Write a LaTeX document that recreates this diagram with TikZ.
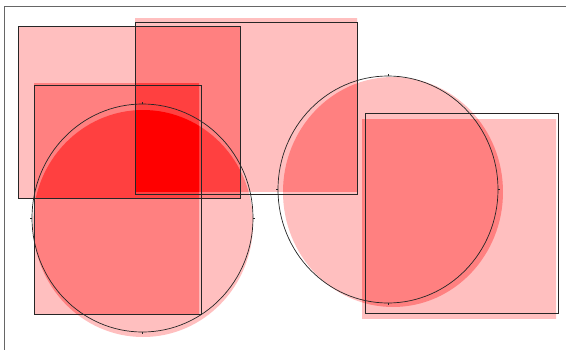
\documentclass[tikz,border=0pt]{standalone}
\usepackage{tikz}
\tikzset{
  outline/.style={draw=black!85,line width=0.7pt},
  tick/.style={draw=black!85,line width=0.6pt},
  frame/.style={draw=black!60,line width=0.9pt},
}
% filled areas (slightly shifted from their outlines)
\def\fA{(18,26) rectangle (240,198)}
\def\fB{(135,18) rectangle (357,191)}
\def\fC{(34,83) rectangle (199,313)}
\def\fD{(143,223.5) ellipse [x radius=110,y radius=113.5]}
\def\fE{(393,192) ellipse [x radius=110,y radius=115]}
\def\fF{(362,119) rectangle (556,318)}
% paint the area where all the given shapes overlap
\def\clipall#1{\ifx#1\relax\else\clip #1;\expandafter\clipall\fi}
\newcommand\hitfill[2]{%
  \begin{scope}\clipall#2\relax\fill[#1] (0,0) rectangle (566,349);\end{scope}}

\begin{document}
\begin{tikzpicture}[x=1pt,y=-1pt]
  \useasboundingbox (0,0) rectangle (566,349);
  \clip (0,0) rectangle (566,349);
  \fill[white] (0,0) rectangle (566,349);
  \draw[frame] (4.5,6.5) rectangle (580,360);
  % one layer
  \hitfill{red!25}{\fA} \hitfill{red!25}{\fB} \hitfill{red!25}{\fC}
  \hitfill{red!25}{\fD} \hitfill{red!25}{\fE} \hitfill{red!25}{\fF}
  % two layers
  \hitfill{red!50}{\fA\fB} \hitfill{red!50}{\fA\fC} \hitfill{red!50}{\fA\fD}
  \hitfill{red!50}{\fB\fC} \hitfill{red!50}{\fB\fD} \hitfill{red!50}{\fC\fD}
  \hitfill{red!50}{\fB\fE} \hitfill{red!50}{\fE\fF}
  % three layers
  \hitfill{red!75}{\fA\fB\fC} \hitfill{red!75}{\fA\fB\fD}
  \hitfill{red!75}{\fA\fC\fD} \hitfill{red!75}{\fB\fC\fD}
  % four layers
  \hitfill{red}{\fA\fB\fC\fD}
  % outlines
  \draw[outline] (18,26) rectangle (240,198);
  \draw[outline] (135,22) rectangle (357,194);
  \draw[outline] (34.5,85) rectangle (201,314);
  \draw[outline] (142.5,218) ellipse [x radius=110.5,y radius=114];
  \draw[outline] (388,189.5) ellipse [x radius=110,y radius=113.5];
  \draw[outline] (365.5,113) rectangle (558,313);
  \foreach \cx/\cy/\rx/\ry in {142.5/218/110.5/114, 388/189.5/110/113.5}
    \draw[tick] (\cx,\cy-\ry) -- +(0,-2) (\cx,\cy+\ry) -- +(0,2)
      (\cx-\rx,\cy) -- +(-2,0) (\cx+\rx,\cy) -- +(2,0);
\end{tikzpicture}
\end{document}
